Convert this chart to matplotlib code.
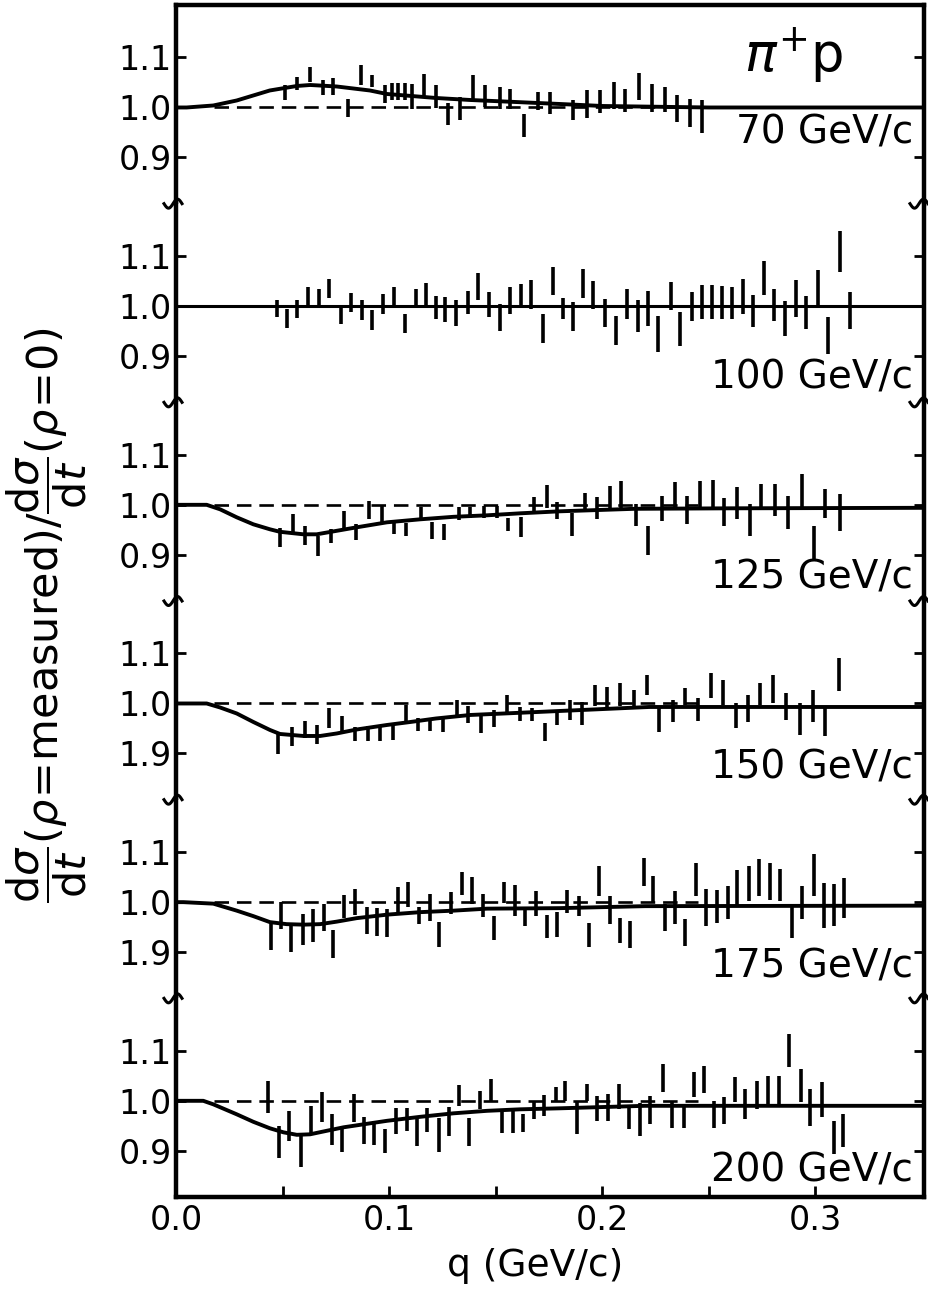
import matplotlib
matplotlib.use('Agg')
import matplotlib.pyplot as plt
from matplotlib.lines import Line2D
import numpy as np

plt.rcParams['font.family'] = ['DejaVu Sans']
plt.rcParams['mathtext.fontset'] = 'dejavusans'

# ---------------- data (q in GeV/c, ratio, error) ----------------
labels = ["70 GeV/c", "100 GeV/c", "125 GeV/c", "150 GeV/c", "175 GeV/c", "200 GeV/c"]
ytick_labels = [["0.9", "1.0", "1.1"], ["0.9", "1.0", "1.1"], ["0.9", "1.0", "1.1"],
                ["1.9", "1.0", "1.1"], ["1.9", "1.0", "1.1"], ["0.9", "1.0", "1.1"]]

q70 = [0.0512, 0.0567, 0.0629, 0.0692, 0.0739, 0.0806, 0.0867, 0.0919, 0.0981, 0.1013, 0.1044, 0.1075,
       0.1106, 0.1164, 0.1221, 0.1275, 0.1333, 0.1396, 0.1451, 0.1521, 0.1568, 0.1634, 0.1701, 0.1756,
       0.1865, 0.1928, 0.1991, 0.2053, 0.2108, 0.2171, 0.2233, 0.2296, 0.2351, 0.2413, 0.2468]
r70 = [1.029, 1.047, 1.066, 1.039, 1.041, 0.999, 1.064, 1.052, 1.026, 1.031, 1.031, 1.031,
       1.022, 1.044, 1.021, 0.986, 0.997, 1.039, 1.022, 1.019, 1.017, 0.964, 1.012, 1.009,
       0.994, 1.006, 1.011, 1.024, 1.014, 1.041, 1.019, 1.016, 0.997, 0.989, 0.981]
e70 = [0.015, 0.013, 0.015, 0.015, 0.017, 0.018, 0.020, 0.012, 0.018, 0.017, 0.017, 0.017,
       0.025, 0.023, 0.023, 0.022, 0.023, 0.025, 0.022, 0.022, 0.020, 0.023, 0.018, 0.022,
       0.020, 0.028, 0.023, 0.027, 0.023, 0.027, 0.028, 0.025, 0.027, 0.028, 0.033]

q100 = [0.0476, 0.0523, 0.0570, 0.0621, 0.0671, 0.0720, 0.0773, 0.0820, 0.0872, 0.0919, 0.0973, 0.1023,
        0.1075, 0.1127, 0.1174, 0.1221, 0.1263, 0.1315, 0.1368, 0.1419, 0.1471, 0.1521, 0.1568, 0.1618,
        0.1667, 0.1720, 0.1768, 0.1818, 0.1862, 0.1912, 0.1959, 0.2011, 0.2064, 0.2116, 0.2166, 0.2213,
        0.2260, 0.2322, 0.2366, 0.2421, 0.2468, 0.2515, 0.2562, 0.2609, 0.2660, 0.2707, 0.2757, 0.2808,
        0.2859, 0.2911, 0.2958, 0.3011, 0.3058, 0.3114, 0.3161]
r100 = [0.995, 0.976, 0.994, 1.019, 1.016, 1.036, 0.982, 1.008, 0.992, 0.972, 1.005, 1.019,
        0.966, 1.017, 1.024, 0.997, 0.994, 0.986, 1.007, 1.039, 1.004, 0.978, 1.012, 1.020,
        1.024, 0.955, 1.050, 0.995, 0.979, 1.045, 1.023, 0.986, 0.952, 1.005, 0.980, 0.996,
        0.945, 1.020, 0.954, 1.000, 1.009, 1.009, 1.008, 1.006, 1.020, 0.990, 1.057, 1.003,
        0.976, 1.015, 0.988, 1.035, 0.941, 1.110, 0.991]
e100 = [0.017, 0.019, 0.018, 0.020, 0.019, 0.019, 0.017, 0.019, 0.020, 0.020, 0.020, 0.020,
        0.019, 0.018, 0.022, 0.023, 0.025, 0.026, 0.023, 0.027, 0.025, 0.027, 0.027, 0.024,
        0.029, 0.029, 0.028, 0.021, 0.029, 0.029, 0.028, 0.028, 0.029, 0.030, 0.032, 0.035,
        0.036, 0.028, 0.034, 0.029, 0.034, 0.034, 0.033, 0.032, 0.035, 0.032, 0.034, 0.032,
        0.035, 0.037, 0.033, 0.037, 0.037, 0.041, 0.037]

q125 = [0.0488, 0.0551, 0.0606, 0.0668, 0.0728, 0.0786, 0.0844, 0.0906, 0.0969, 0.1023, 0.1080, 0.1149,
        0.1200, 0.1258, 0.1330, 0.1380, 0.1443, 0.1506, 0.1560, 0.1618, 0.1682, 0.1740, 0.1790,
        0.1858, 0.1917, 0.1975, 0.2038, 0.2089, 0.2158, 0.2213, 0.2280, 0.2343, 0.2398, 0.2460,
        0.2518, 0.2570, 0.2632, 0.2692, 0.2746, 0.2812, 0.2870, 0.2937, 0.2992, 0.3047, 0.3114]
r125 = [0.935, 0.961, 0.939, 0.918, 0.937, 0.970, 0.945, 0.990, 0.980, 0.955, 0.951, 0.982,
        0.948, 0.945, 0.983, 0.985, 0.986, 0.986, 0.961, 0.955, 1.002, 1.017, 0.988,
        0.961, 1.006, 0.993, 1.015, 1.021, 0.980, 0.929, 0.993, 1.020, 0.990, 1.021,
        1.023, 0.986, 1.003, 0.969, 1.016, 1.010, 0.984, 1.028, 0.925, 1.002, 0.985]
e125 = [0.019, 0.020, 0.019, 0.020, 0.014, 0.018, 0.016, 0.018, 0.018, 0.013, 0.013, 0.014,
        0.017, 0.016, 0.013, 0.011, 0.012, 0.012, 0.013, 0.020, 0.014, 0.023, 0.017,
        0.023, 0.018, 0.022, 0.023, 0.027, 0.022, 0.029, 0.025, 0.025, 0.028, 0.027,
        0.027, 0.028, 0.032, 0.032, 0.025, 0.032, 0.033, 0.033, 0.033, 0.029, 0.037]

q150 = [0.0480, 0.0543, 0.0606, 0.0660, 0.0720, 0.0778, 0.0840, 0.0900, 0.0958, 0.1016, 0.1080, 0.1135,
        0.1192, 0.1255, 0.1318, 0.1372, 0.1431, 0.1490, 0.1553, 0.1612, 0.1670, 0.1732, 0.1790,
        0.1847, 0.1905, 0.1964, 0.2022, 0.2085, 0.2147, 0.2210, 0.2265, 0.2332, 0.2390, 0.2449,
        0.2512, 0.2567, 0.2628, 0.2682, 0.2742, 0.2801, 0.2864, 0.2926, 0.2989, 0.3047, 0.3109]
r150 = [0.919, 0.934, 0.947, 0.938, 0.970, 0.957, 0.939, 0.940, 0.941, 0.943, 0.980, 0.957,
        0.957, 0.958, 0.990, 0.977, 0.959, 0.970, 1.000, 0.978, 0.977, 0.942, 0.972,
        0.987, 0.980, 1.016, 1.013, 1.017, 1.008, 1.037, 0.968, 0.985, 1.013, 0.987,
        1.035, 1.022, 0.975, 0.990, 1.018, 1.028, 0.993, 0.968, 0.995, 0.964, 1.057]
e150 = [0.021, 0.019, 0.017, 0.019, 0.020, 0.017, 0.014, 0.015, 0.016, 0.017, 0.017, 0.013,
        0.013, 0.015, 0.017, 0.017, 0.018, 0.017, 0.017, 0.014, 0.013, 0.018, 0.015,
        0.020, 0.023, 0.021, 0.020, 0.023, 0.018, 0.020, 0.025, 0.022, 0.017, 0.023,
        0.025, 0.025, 0.025, 0.027, 0.022, 0.028, 0.027, 0.032, 0.032, 0.029, 0.033]

q175 = [0.0444, 0.0491, 0.0538, 0.0595, 0.0645, 0.0695, 0.0739, 0.0786, 0.0840, 0.0895, 0.0945, 0.0992,
        0.1044, 0.1091, 0.1142, 0.1192, 0.1236, 0.1291, 0.1341, 0.1388, 0.1440, 0.1490, 0.1540, 0.1592,
        0.1638, 0.1689, 0.1740, 0.1790, 0.1837, 0.1889, 0.1939, 0.1987, 0.2038, 0.2085, 0.2131, 0.2194,
        0.2238, 0.2293, 0.2343, 0.2390, 0.2440, 0.2487, 0.2538, 0.2590, 0.2632, 0.2687, 0.2737, 0.2789,
        0.2833, 0.2891, 0.2937, 0.2992, 0.3042, 0.3089, 0.3136]
r175 = [0.932, 0.973, 0.927, 0.946, 0.954, 0.970, 0.916, 0.991, 1.001, 0.963, 0.960, 0.958,
        1.004, 1.015, 0.973, 0.990, 0.935, 0.999, 1.038, 1.023, 0.993, 0.949, 1.020, 1.004,
        0.969, 0.998, 0.951, 0.955, 1.002, 0.992, 0.935, 1.042, 0.984, 0.944, 0.935, 1.060,
        1.026, 0.969, 0.989, 0.939, 1.046, 0.989, 0.992, 0.999, 1.030, 1.037, 1.049, 1.042,
        1.034, 0.960, 0.999, 1.054, 0.994, 0.994, 1.009]
e175 = [0.028, 0.027, 0.027, 0.031, 0.033, 0.027, 0.028, 0.023, 0.026, 0.027, 0.028, 0.028,
        0.026, 0.025, 0.017, 0.027, 0.025, 0.022, 0.023, 0.027, 0.023, 0.024, 0.021, 0.031,
        0.017, 0.025, 0.023, 0.025, 0.023, 0.020, 0.024, 0.030, 0.028, 0.025, 0.027, 0.028,
        0.027, 0.027, 0.033, 0.027, 0.033, 0.037, 0.033, 0.033, 0.035, 0.035, 0.037, 0.037,
        0.032, 0.032, 0.033, 0.042, 0.045, 0.042, 0.040]

q200 = [0.0430, 0.0484, 0.0531, 0.0585, 0.0632, 0.0684, 0.0731, 0.0781, 0.0833, 0.0883, 0.0930, 0.0981,
        0.1031, 0.1083, 0.1130, 0.1180, 0.1232, 0.1280, 0.1330, 0.1377, 0.1427, 0.1479, 0.1529, 0.1581,
        0.1628, 0.1678, 0.1728, 0.1784, 0.1826, 0.1881, 0.1928, 0.1975, 0.2027, 0.2077, 0.2128, 0.2175,
        0.2222, 0.2285, 0.2327, 0.2382, 0.2429, 0.2476, 0.2526, 0.2573, 0.2621, 0.2671, 0.2726, 0.2776,
        0.2828, 0.2875, 0.2933, 0.2977, 0.3031, 0.3086, 0.3130]
r200 = [1.008, 0.918, 0.950, 0.900, 0.961, 0.987, 0.942, 0.922, 0.985, 0.940, 0.936, 0.919,
        0.959, 0.963, 0.938, 0.962, 0.932, 0.959, 1.010, 0.937, 1.002, 1.022, 0.958, 0.958,
        0.955, 0.982, 0.991, 1.012, 1.020, 0.967, 1.017, 0.985, 0.987, 1.008, 0.967, 0.963,
        0.982, 1.045, 0.973, 0.969, 1.032, 1.043, 0.973, 0.980, 1.022, 0.993, 1.012, 1.020,
        1.022, 1.100, 1.030, 0.987, 1.002, 0.927, 0.940]
e200 = [0.032, 0.032, 0.030, 0.033, 0.028, 0.030, 0.031, 0.025, 0.028, 0.027, 0.024, 0.024,
        0.026, 0.023, 0.028, 0.024, 0.034, 0.029, 0.021, 0.028, 0.018, 0.022, 0.022, 0.022,
        0.018, 0.018, 0.021, 0.015, 0.020, 0.033, 0.017, 0.025, 0.027, 0.025, 0.023, 0.033,
        0.028, 0.028, 0.027, 0.023, 0.025, 0.027, 0.027, 0.027, 0.025, 0.030, 0.028, 0.030,
        0.028, 0.033, 0.033, 0.037, 0.035, 0.033, 0.033]

# theoretical curves
cq70 = [0.0, 0.005, 0.0175, 0.0285, 0.044, 0.0567, 0.063, 0.0754, 0.091, 0.099, 0.122, 0.138,
        0.154, 0.180, 0.200, 0.250, 0.351]
cr70 = [1.0, 1.0, 1.004, 1.014, 1.034, 1.043, 1.045, 1.042, 1.034, 1.027, 1.019, 1.015,
        1.012, 1.007, 1.003, 1.0, 1.0]
cq125 = [0.0, 0.0144, 0.0207, 0.0285, 0.0363, 0.0441, 0.0488, 0.0598, 0.066, 0.0754, 0.0848, 0.099,
         0.1146, 0.1302, 0.146, 0.1615, 0.18, 0.215, 0.26, 0.351]
cr125 = [1.0, 1.0, 0.991, 0.975, 0.961, 0.951, 0.946, 0.941, 0.941, 0.948, 0.955, 0.965,
         0.971, 0.976, 0.979, 0.983, 0.987, 0.992, 0.993, 0.994]
cq150 = [0.0, 0.0144, 0.0207, 0.0285, 0.0363, 0.0441, 0.0488, 0.0598, 0.0676, 0.0754, 0.0848, 0.099,
         0.110, 0.122, 0.138, 0.154, 0.180, 0.222, 0.351]
cr150 = [1.0, 1.0, 0.992, 0.980, 0.963, 0.947, 0.939, 0.935, 0.935, 0.940, 0.948, 0.957,
         0.963, 0.970, 0.977, 0.980, 0.985, 0.993, 0.993]
cq175 = [0.0, 0.0035, 0.0175, 0.0285, 0.0363, 0.0441, 0.0519, 0.0598, 0.0676, 0.0754, 0.0848, 0.099,
         0.1146, 0.1302, 0.146, 0.180, 0.220, 0.351]
cr175 = [1.0, 1.0, 0.997, 0.983, 0.972, 0.960, 0.956, 0.955, 0.956, 0.961, 0.968, 0.975,
         0.980, 0.983, 0.987, 0.988, 0.992, 0.993]
cq200 = [0.0, 0.0128, 0.0175, 0.0285, 0.0363, 0.0441, 0.0504, 0.0567, 0.0629, 0.0707, 0.0786, 0.088,
         0.099, 0.1146, 0.1302, 0.146, 0.1615, 0.180, 0.220, 0.351]
cr200 = [1.0, 1.0, 0.993, 0.973, 0.958, 0.945, 0.937, 0.932, 0.933, 0.940, 0.947, 0.953,
         0.960, 0.968, 0.975, 0.980, 0.983, 0.985, 0.990, 0.990]

data_q = [q70, q100, q125, q150, q175, q200]
data_r = [r70, r100, r125, r150, r175, r200]
data_e = [e70, e100, e125, e150, e175, e200]
curves = [(cq70, cr70), None, (cq125, cr125), (cq150, cr150), (cq175, cr175), (cq200, cr200)]
label_y = [0.950, 0.858, 0.854, 0.872, 0.872, 0.860]

# ---------------- layout ----------------
W, H = 929, 1294
fig = plt.figure(figsize=(W / 100, H / 100), dpi=100)
L, R, T, B = 176 / W, 924 / W, 1 - 5 / H, 1 - 1197 / H
n = 6
h = (T - B) / n
YLIM = (0.8076, 1.205)
XLIM = (0.0, 0.351)
SPW = 3.2

axes = []
for i in range(n):
    ax = fig.add_axes([L, T - (i + 1) * h, R - L, h])
    axes.append(ax)
    ax.set_xlim(XLIM)
    ax.set_ylim(YLIM)
    for s in ax.spines.values():
        s.set_linewidth(SPW)
    if i > 0:
        ax.spines['top'].set_visible(False)
    if i < n - 1:
        ax.spines['bottom'].set_visible(False)

    # reference lines
    if curves[i] is None:
        ax.axhline(1.0, color='black', lw=2.2)
    else:
        ax.hlines(1.0, 0.018, 0.245, colors='black', linestyles=(0, (5.5, 3.0)), lw=1.9)
        cq, cr = curves[i]
        ax.plot(cq, cr, color='black', lw=2.8, solid_joinstyle='round')

    ax.errorbar(data_q[i], data_r[i], yerr=data_e[i], fmt='none', ecolor='black',
                elinewidth=2.6, capsize=0)

    ax.set_yticks([0.9, 1.0, 1.1])
    ax.set_yticklabels(ytick_labels[i])
    ax.tick_params(axis='y', direction='in', length=7, width=2, left=True, right=True,
                   labelsize=24, pad=3)
    if i < n - 1:
        ax.set_xticks([])
    else:
        ax.set_xticks([0.0, 0.1, 0.2, 0.3])
        ax.set_xticklabels(["0.0", "0.1", "0.2", "0.3"])
        ax.set_xticks([0.05, 0.15, 0.25], minor=True)
        ax.tick_params(axis='x', which='both', direction='in', length=8, width=2,
                       labelsize=24, pad=5, top=False)

    ax.text(0.985, label_y[i], labels[i], transform=ax.get_yaxis_transform(),
            ha='right', va='center', fontsize=28)

axes[0].text(0.290, 1.104, r'$\pi^{+}\mathrm{p}$', ha='center', va='center', fontsize=38)

# break marks on the left and right spines between panels
for i in range(1, n):
    yb = 5 + i * (1192 / n)
    for xs in (176, 922):
        xx = np.linspace(xs - 12, xs + 6, 30)
        yy = yb + 4.5 * np.sin((xx - xs + 12) / 18 * 2 * np.pi)
        fig.add_artist(Line2D(xx / W, 1 - yy / H, color='black', lw=2.2,
                              transform=fig.transFigure))

fig.text(535 / W, 1 - 1266 / H, 'q (GeV/c)', ha='center', va='center', fontsize=27)
fig.text(47 / W, 1 - 615 / H,
         r'$\dfrac{\mathrm{d}\sigma}{\mathrm{d}t}(\rho\!=\!\mathrm{measured})/\dfrac{\mathrm{d}\sigma}{\mathrm{d}t}(\rho\!=\!0)$',
         rotation=90, ha='center', va='center', fontsize=31)

fig.savefig('out.png', dpi=100)
